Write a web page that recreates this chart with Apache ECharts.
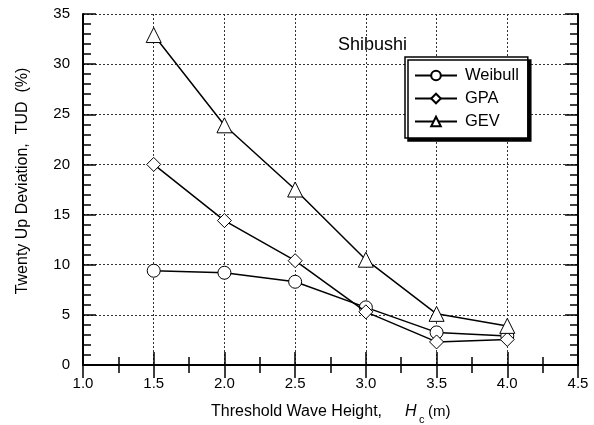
<!DOCTYPE html>
<html><head><meta charset="utf-8">
<script src="https://cdn.jsdelivr.net/npm/echarts@6/dist/echarts.min.js"></script>
<style>html,body{margin:0;padding:0;background:#fff}#c{width:594px;height:425px}</style>
</head><body><div id="c"></div>
<script>
const xValues = [1.5, 2.0, 2.5, 3.0, 3.5, 4.0];
const weibull = [9.4, 9.2, 8.3, 5.75, 3.25, 2.9];
const gpa = [20.0, 14.4, 10.4, 5.3, 2.3, 2.55];
const gev = [32.9, 23.9, 17.5, 10.5, 5.1, 3.9];
const seriesNames = ['Weibull', 'GPA', 'GEV'];

const font = 'Arial, "Liberation Sans", sans-serif';
const chart = echarts.init(document.getElementById('c'), null, {renderer: 'canvas'});
const pair = arr => xValues.map((x, i) => [x, arr[i]]);

function baseX(pos, labels) {
  return {
    type: 'value', position: pos, min: 1, max: 4.5, interval: 0.5,
    axisLine: {show: true, lineStyle: {color: '#000', width: 2}},
    axisTick: {show: true, inside: true, length: 13, lineStyle: {color: '#000', width: 1.5}},
    minorTick: {show: true, splitNumber: 2, length: 8, lineStyle: {color: '#000', width: 1.5}},
    axisLabel: {show: labels, margin: 11, color: '#000', fontSize: 15, fontFamily: font,
      formatter: v => v.toFixed(1)},
    splitLine: {show: labels, lineStyle: {color: '#333', type: [2, 2], width: 1}}
  };
}
function baseY(pos, labels) {
  return {
    type: 'value', position: pos, min: 0, max: 35, interval: 5,
    axisLine: {show: true, lineStyle: {color: '#000', width: 2}},
    axisTick: {show: true, inside: true, length: 13, lineStyle: {color: '#000', width: 1.5}},
    minorTick: {show: true, splitNumber: 5, length: 8, lineStyle: {color: '#000', width: 1.5}},
    axisLabel: {show: labels, margin: 13, color: '#000', fontSize: 15, fontFamily: font},
    splitLine: {show: labels, lineStyle: {color: '#333', type: [2, 2], width: 1}}
  };
}
const symbols = ['circle', 'diamond', 'triangle'];
const sizes = [13, 14, 15];
const datas = [weibull, gpa, gev];

chart.setOption({
  animation: false,
  grid: {left: 83, right: 16, top: 14, bottom: 60},
  xAxis: [baseX('bottom', true), baseX('top', false)],
  yAxis: [baseY('left', true), baseY('right', false)],
  legend: {
    orient: 'vertical', left: 405, top: 57, width: 104,
    padding: [10, 9, 8, 9], itemGap: 6, itemWidth: 42, itemHeight: 12,
    backgroundColor: '#fff', borderColor: '#000', borderWidth: 1.5,
    shadowColor: '#000', shadowBlur: 0, shadowOffsetX: 3, shadowOffsetY: 3,
    textStyle: {color: '#000', fontSize: 16.5, fontFamily: font, padding: [0, 0, 0, 3]},
    data: seriesNames
  },
  series: seriesNames.map((n, i) => ({
    name: n, type: 'line', data: pair(datas[i]),
    symbol: symbols[i], symbolSize: sizes[i], showAllSymbol: true,
    lineStyle: {color: '#000', width: 1.5},
    itemStyle: {color: '#fff', borderColor: '#000', borderWidth: 1},
    z: 3 + i
  })),
  graphic: [
    {type: 'text', left: 338, top: 36, style: {text: 'Shibushi', font: '18px ' + font, fill: '#000'}},
    {type: 'text', x: 22.5, y: 181, rotation: Math.PI / 2,
      style: {text: 'Twenty Up Deviation,  TUD  (%)', font: '16px ' + font, fill: '#000',
        textAlign: 'center', textVerticalAlign: 'middle'}},
    {type: 'text', x: 211, y: 412, style: {text: 'Threshold Wave Height,', font: '16px ' + font, fill: '#000', textVerticalAlign: 'middle'}},
    {type: 'text', x: 405, y: 412, style: {text: 'H', font: 'italic 16px ' + font, fill: '#000', textVerticalAlign: 'middle'}},
    {type: 'text', x: 419, y: 420, style: {text: 'c', font: '11px ' + font, fill: '#000', textVerticalAlign: 'middle'}},
    {type: 'text', x: 428, y: 412, style: {text: '(m)', font: '15px ' + font, fill: '#000', textVerticalAlign: 'middle'}}
  ]
});
</script></body></html>
